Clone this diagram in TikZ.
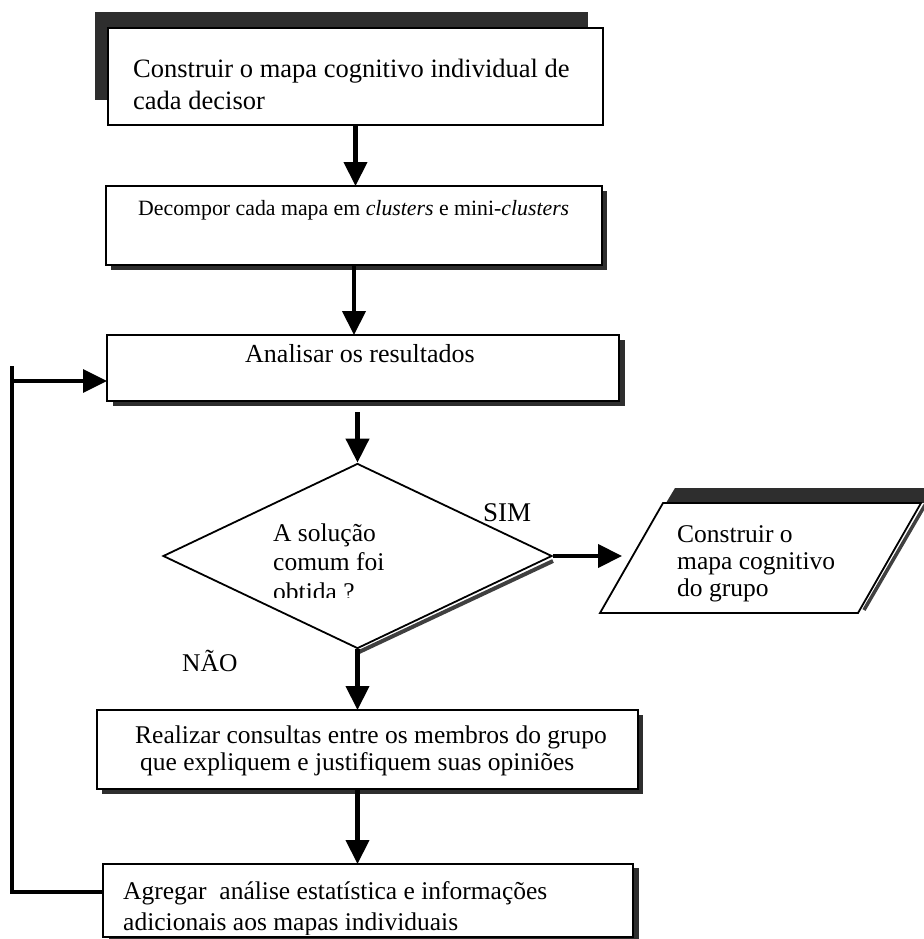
\documentclass[tikz,border=0pt]{standalone}
\usepackage{fontspec}
\setmainfont{Liberation Serif}
\usetikzlibrary{arrows.meta,shapes.geometric}
\begin{document}
\begin{tikzpicture}[x=1pt,y=-1pt,
  frame/.style={draw, line width=1.8pt, fill=white, inner sep=0pt, outer sep=0pt},
  shade/.style={fill=black!82},
  arr/.style={line width=4.2pt, -{Triangle[length=24pt,width=23pt]}},
  lbl/.style={inner sep=0pt, anchor=base west, font=\fontsize{25.5}{30}\selectfont},
  big/.style={lbl, font=\fontsize{26.5}{31}\selectfont},
  small/.style={lbl, font=\fontsize{21.8}{26}\selectfont},
]
\useasboundingbox (0,0) rectangle (923,939);

% --- step 1: individual maps (shadow up-left)
\path[shade] (95,12) rectangle (588,100);
\node[frame, minimum width=495pt, minimum height=97pt] (b1) at (355.5,76.5) {};
\node[big] (t1a) at (133,78) {Construir o mapa cognitivo individual de};
\node[big] (t1b) at (133,110) {cada decisor};

% --- step 2: clusters
\path[shade] (111,191) rectangle (607,270);
\node[frame, minimum width=496pt, minimum height=79pt] (b2) at (354,225.5) {};
\node[small] (t2) at (138,215) {Decompor cada mapa em \textit{clusters} e mini-\textit{clusters}};

% --- step 3: analysis
\path[shade] (113,340) rectangle (625,406);
\node[frame, minimum width=512pt, minimum height=66pt] (b3) at (363,368) {};
\node[lbl, font=\fontsize{26}{30}\selectfont] (t3) at (245,362) {Analisar os resultados};

% --- decision
\draw[black!75, line width=4pt] (553,561) -- (359,652);
\node[draw, fill=white, line width=1.8pt, shape=diamond, inner sep=0pt,
      minimum width=389pt, minimum height=185pt] (dec) at (357.5,556) {};
\begin{scope}
  \clip (260,490) rectangle (460,597);
  \node[lbl] (d1) at (273,541) {A solução};
  \node[lbl] (d2) at (273,570) {comum foi};
  \node[lbl] (d3) at (273,600) {obtida ?};
\end{scope}
\node[lbl, font=\fontsize{27}{31}\selectfont] (sim) at (483,521) {SIM};
\node[lbl] (nao) at (182,671) {NÃO};

% --- output: group map (parallelogram)
\path[shade] (675,488) -- (930,488) -- (930,503) -- (666,503) -- cycle;
\draw[black!75, line width=3.5pt] (925,505) -- (864,610);
\coordinate (pTL) at (663,503);
\coordinate (pTR) at (921,503);
\coordinate (pBR) at (858,613);
\coordinate (pBL) at (600,613);
\draw[line width=1.8pt, fill=white, line join=miter] (pTL) -- (pTR) -- (pBR) -- (pBL) -- cycle;
\coordinate (pin) at (622,556);
\node[lbl] (g1) at (677,542) {Construir o};
\node[lbl] (g2) at (677,569) {mapa cognitivo};
\node[lbl] (g3) at (677,596) {do grupo};

% --- step 4: consultation
\path[shade] (102,715) rectangle (643,794);
\node[frame, minimum width=541pt, minimum height=79pt] (b4) at (367.5,749.5) {};
\node[lbl] (t4a) at (135,743) {Realizar consultas entre os membros do grupo};
\node[lbl] (t4b) at (140,770) {que expliquem e justifiquem suas opiniões};

% --- step 5: aggregation
\path[shade] (109,868) rectangle (639,941);
\node[frame, minimum width=530pt, minimum height=73pt] (b5) at (368,900.5) {};
\begin{scope}
  \clip (110,866) rectangle (630,934);
  \node[lbl] (t5a) at (123,899) {Agregar~ análise estatística e informações};
  \node[lbl] (t5b) at (123,930) {adicionais aos mapas individuais};
\end{scope}

% --- connectors
\draw[arr] (b1.south) -- (b1.south |- b2.north);
\draw[arr] (b2.south) -- (b2.south |- b3.north);
\draw[arr] ([yshift=-11pt]dec.north |- b3.south) -- (dec.north);
\draw[arr] (dec.south) -- (dec.south |- b4.north);
\draw[arr] (dec.south |- b4.south) -- (dec.south |- b5.north);
\draw[arr] (dec.east) -- (dec.east -| pin);

% --- feedback loop
\coordinate (loopB) at (12,892);
\coordinate (loopT) at (12,381);
\draw[line width=3.5pt] (loopT) ++(0,-15) -- (loopT);
\draw[arr, line width=3.5pt] (b5.west |- loopB) -- (loopB) -- (loopT) -- (loopT -| b3.west);
\end{tikzpicture}
\end{document}
